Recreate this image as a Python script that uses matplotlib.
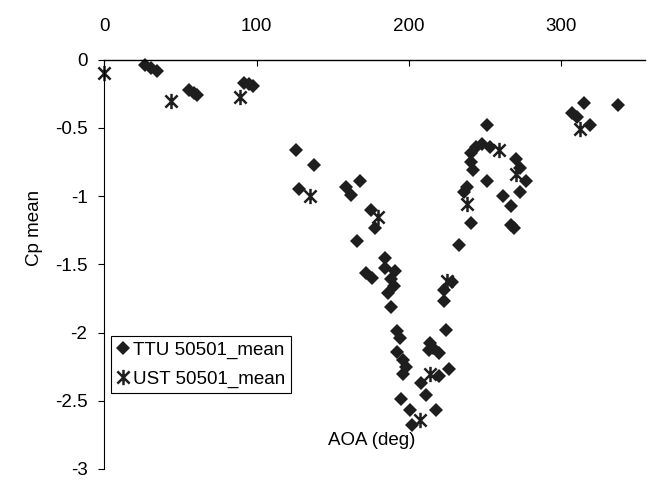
import matplotlib
matplotlib.use('Agg')
import matplotlib.pyplot as plt
from matplotlib.path import Path

plt.rcParams['font.family'] = ['Liberation Sans', 'DejaVu Sans']

# TTU 50501 mean Cp vs angle of attack
ttu_aoa = [27, 31, 35, 56, 59, 61, 92, 95, 98,
           126, 138, 128, 159, 168, 162, 175, 178, 166,
           184, 184, 172, 176, 188, 190, 186, 191, 188,
           192, 194, 192, 196, 198, 196, 195, 201, 202,
           218, 211, 208, 220, 226, 224, 216, 213, 220, 214,
           233, 228, 223, 223,
           251, 244, 248, 253, 241, 241, 242, 251, 270, 273, 277, 273,
           262, 267, 238, 236, 241, 267, 269,
           315, 337, 307, 310, 319]
ttu_cp = [-0.04, -0.06, -0.08, -0.22, -0.24, -0.26, -0.17, -0.18, -0.19,
          -0.66, -0.77, -0.95, -0.93, -0.89, -0.99, -1.10, -1.23, -1.33,
          -1.45, -1.53, -1.56, -1.60, -1.61, -1.66, -1.71, -1.55, -1.81,
          -1.99, -2.04, -2.14, -2.20, -2.25, -2.30, -2.49, -2.57, -2.68,
          -2.57, -2.46, -2.37, -2.32, -2.27, -1.98, -2.11, -2.13, -2.15, -2.08,
          -1.36, -1.63, -1.69, -1.77,
          -0.48, -0.64, -0.62, -0.64, -0.68, -0.75, -0.81, -0.89, -0.73, -0.79, -0.89, -0.97,
          -1.00, -1.07, -0.93, -0.97, -1.20, -1.21, -1.23,
          -0.32, -0.33, -0.39, -0.42, -0.48]

# UST 50501 mean Cp
ust_aoa = [0, 44, 89, 135, 180, 207, 214, 225, 259, 270, 238, 312]
ust_cp = [-0.10, -0.30, -0.27, -1.00, -1.15, -2.64, -2.30, -1.62, -0.66, -0.84, -1.06, -0.51]

xticks = [0, 100, 200, 300]
yticks = [0, -0.5, -1, -1.5, -2, -2.5, -3]
ytick_labels = ['0', '-0.5', '-1', '-1.5', '-2', '-2.5', '-3']

# excel style asterisk: vertical bar plus an x
star = Path([(0, -1), (0, 1), (-0.8, -0.8), (0.8, 0.8), (-0.8, 0.8), (0.8, -0.8)],
            [Path.MOVETO, Path.LINETO] * 3)

fs = 13.5
fig = plt.figure(figsize=(6.55, 4.86), dpi=100)
ax = fig.add_axes([0.159, 0.035, 0.826, 0.842])

ax.plot(ttu_aoa, ttu_cp, 'D', color='#1e1e1e', markersize=7.5, markeredgewidth=0,
        linestyle='none', label='TTU 50501_mean', clip_on=False)
ax.plot(ust_aoa, ust_cp, marker=star, color='#1e1e1e', markersize=11, markeredgewidth=1.8,
        fillstyle='none', linestyle='none', label='UST 50501_mean', clip_on=False)

ax.set_xlim(0, 355)
ax.set_ylim(-3, 0)
ax.xaxis.tick_top()
ax.set_xticks(xticks)
ax.set_yticks(yticks)
ax.set_yticklabels(ytick_labels)
ax.tick_params(axis='x', direction='in', length=4, pad=18, labelsize=fs)
ax.tick_params(axis='y', direction='out', length=4, pad=8, labelsize=fs)

for s in ['right', 'bottom']:
    ax.spines[s].set_visible(False)
ax.spines['top'].set_linewidth(1.0)
ax.spines['left'].set_linewidth(0.8)

ax.set_ylabel('Cp mean', fontsize=fs)
ax.yaxis.set_label_coords(-0.113, 0.59)
ax.text(0.495, 0.07, 'AOA (deg)', transform=ax.transAxes, ha='center', va='center', fontsize=fs)

leg = ax.legend(loc='lower left', bbox_to_anchor=(0.012, 0.185), fontsize=fs,
                fancybox=False, framealpha=1, edgecolor='black', borderpad=0.3,
                handlelength=0.7, handletextpad=0.2, labelspacing=0.6, borderaxespad=0)
leg.get_frame().set_linewidth(0.8)

fig.savefig('out.png', dpi=100)
